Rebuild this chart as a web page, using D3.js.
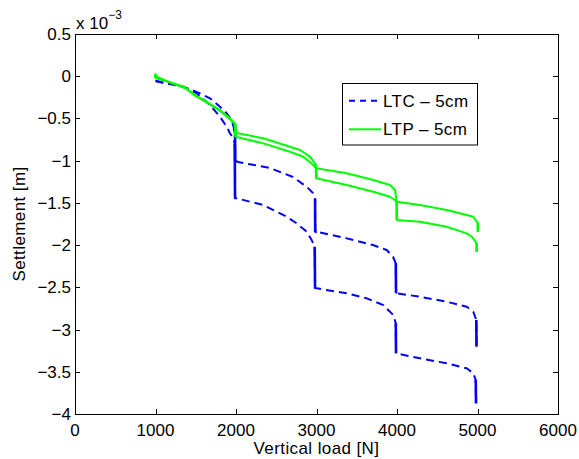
<!DOCTYPE html>
<html>
<head>
<meta charset="utf-8">
<script src="https://cdn.jsdelivr.net/npm/d3@7"></script>
<style>
  body { margin: 0; background: #fff; }
  text { font-family: "Liberation Sans", Arial, Helvetica, sans-serif; }
</style>
</head>
<body>
<script>
// LTC - 5cm (blue dashed), two loading runs. Settlement in 1e-3 m.
const ltcLoadA = [1000, 1118, 1263, 1429, 1553, 1677, 1801, 1884, 1947, 1975, 1988, 1990,
  2025, 2422, 2708, 2882, 2957, 2982, 2984,
  3002, 3375, 3702, 3872, 3950, 3985, 3988,
  3996, 4286, 4617, 4866, 4948, 4985, 4988];
const ltcSetA = [-0.05, -0.084, -0.104, -0.155, -0.203, -0.262, -0.361, -0.439, -0.519, -0.617, -0.67, -1.0,
  -1.016, -1.087, -1.194, -1.312, -1.384, -1.45, -1.845,
  -1.842, -1.92, -1.999, -2.058, -2.138, -2.216, -2.567,
  -2.571, -2.611, -2.671, -2.73, -2.789, -2.888, -3.203];

const ltcLoadB = [1000, 1180, 1345, 1512, 1677, 1801, 1884, 1925, 1959, 1985, 1988,
  2009, 2174, 2339, 2505, 2629, 2753, 2878, 2940, 2978, 2982,
  3002, 3375, 3624, 3830, 3954, 3985, 3988,
  4286, 4617, 4866, 4948, 4978, 4982];
const ltcSetB = [-0.06, -0.09, -0.124, -0.203, -0.341, -0.48, -0.598, -0.676, -0.724, -0.8, -1.446,
  -1.446, -1.486, -1.525, -1.604, -1.664, -1.742, -1.842, -1.94, -2.019, -2.512,
  -2.512, -2.571, -2.63, -2.71, -2.828, -2.926, -3.282,
  -3.341, -3.4, -3.459, -3.518, -3.598, -3.874];

// LTP - 5cm (green solid), two loading runs.
const ltpLoadA = [1000, 1000, 1060, 1221, 1366, 1491, 1636, 1801, 1925, 1988, 1995,
  2339, 2671, 2795, 2919, 2981, 2994,
  3375, 3706, 3913, 3975, 3996,
  4286, 4617, 4866, 4948, 5005, 5005];
const ltpSetA = [0.03, -0.02, -0.04, -0.084, -0.131, -0.223, -0.302, -0.4, -0.499, -0.558, -0.669,
  -0.735, -0.835, -0.874, -0.953, -1.031, -1.091,
  -1.15, -1.229, -1.288, -1.348, -1.486,
  -1.525, -1.584, -1.643, -1.664, -1.742, -1.841];

const ltpLoadB = [1000, 1221, 1366, 1491, 1636, 1801, 1925, 1988, 1995,
  2339, 2671, 2836, 2960, 2994, 2998,
  3375, 3706, 3913, 3975, 3996, 3998,
  4286, 4617, 4866, 4930, 4990, 4990];
const ltpSetB = [0, -0.09, -0.14, -0.23, -0.31, -0.41, -0.51, -0.57, -0.716,
  -0.795, -0.894, -0.953, -1.052, -1.09, -1.209,
  -1.288, -1.368, -1.427, -1.466, -1.5, -1.703,
  -1.723, -1.782, -1.861, -1.901, -1.979, -2.078];

const xTicks = [0, 1000, 2000, 3000, 4000, 5000, 6000];
const yTicks = [0.5, 0, -0.5, -1, -1.5, -2, -2.5, -3, -3.5, -4];
const legendLabels = ["LTC \u2013 5cm", "LTP \u2013 5cm"];

const width = 579, height = 459;
const plot = { left: 75, right: 558, top: 34, bottom: 414 };

const svg = d3.select("body").append("svg")
  .attr("width", width)
  .attr("height", height);

const x = d3.scaleLinear().domain([0, 6000]).range([plot.left, plot.right]);
const y = d3.scaleLinear().domain([-4, 0.5]).range([plot.bottom, plot.top]);

const zip = (xs, ys) => xs.map((v, i) => [v, ys[i]]);

const line = d3.line()
  .x((d) => x(d[0]))
  .y((d) => y(d[1]));

// creep parts: consecutive points at (nearly) the same load
function creepParts(pts) {
  const parts = [];
  for (let i = 1; i < pts.length; i++) {
    if (Math.abs(pts[i][0] - pts[i - 1][0]) < 20) parts.push([pts[i - 1], pts[i]]);
  }
  return parts;
}

svg.append("clipPath").attr("id", "clip")
  .append("rect")
  .attr("x", plot.left).attr("y", plot.top)
  .attr("width", plot.right - plot.left).attr("height", plot.bottom - plot.top);

const g = svg.append("g").attr("clip-path", "url(#clip)");

const ltc = [zip(ltcLoadA, ltcSetA), zip(ltcLoadB, ltcSetB)];
const ltp = [zip(ltpLoadA, ltpSetA), zip(ltpLoadB, ltpSetB)];

function drawSeries(list, color, dash) {
  list.forEach((pts) => {
    g.append("path")
      .attr("d", line(pts))
      .attr("fill", "none")
      .attr("stroke", color)
      .attr("stroke-width", 2)
      .attr("stroke-linejoin", "round")
      .attr("stroke-dasharray", dash);
    creepParts(pts).forEach((seg) => {
      g.append("path")
        .attr("d", line(seg))
        .attr("fill", "none")
        .attr("stroke", color)
        .attr("stroke-width", 2.6);
    });
  });
}
drawSeries(ltc, "#0000ff", "8,5");
drawSeries(ltp, "#00ff00", null);

// axes box and inward ticks on all sides
const axes = svg.append("g").attr("stroke", "#000").attr("stroke-width", 1);
axes.append("rect")
  .attr("x", plot.left + 0.5).attr("y", plot.top + 0.5)
  .attr("width", plot.right - plot.left).attr("height", plot.bottom - plot.top)
  .attr("fill", "none");

const tl = 5;
xTicks.forEach((t) => {
  const px = Math.round(x(t)) + 0.5;
  axes.append("line").attr("x1", px).attr("x2", px)
    .attr("y1", plot.bottom).attr("y2", plot.bottom - tl);
  axes.append("line").attr("x1", px).attr("x2", px)
    .attr("y1", plot.top).attr("y2", plot.top + tl);
});
yTicks.forEach((t) => {
  const py = Math.round(y(t)) + 0.5;
  axes.append("line").attr("x1", plot.left).attr("x2", plot.left + tl)
    .attr("y1", py).attr("y2", py);
  axes.append("line").attr("x1", plot.right).attr("x2", plot.right - tl)
    .attr("y1", py).attr("y2", py);
});

const fs = 17;
svg.append("g").selectAll("text")
  .data(xTicks)
  .join("text")
  .attr("x", (d) => x(d))
  .attr("y", 436)
  .attr("text-anchor", "middle")
  .attr("font-size", fs)
  .text((d) => d);

const fmtY = (d) => (d < 0 ? "\u2212" : "") + Math.abs(d);
svg.append("g").selectAll("text")
  .data(yTicks)
  .join("text")
  .attr("x", 71)
  .attr("y", (d) => y(d))
  .attr("dy", "0.35em")
  .attr("text-anchor", "end")
  .attr("font-size", fs)
  .text(fmtY);

// exponent label
const expo = svg.append("text").attr("x", 76).attr("y", 29).attr("font-size", fs);
expo.append("tspan").text("x 10");
expo.append("tspan").attr("font-size", 12).attr("dy", -10).text("\u22123");

svg.append("text")
  .attr("x", (plot.left + plot.right) / 2)
  .attr("y", 454)
  .attr("text-anchor", "middle")
  .attr("font-size", fs)
  .attr("letter-spacing", 0.4)
  .text("Vertical load [N]");

svg.append("text")
  .attr("transform", `translate(25,${(plot.top + plot.bottom) / 2}) rotate(-90)`)
  .attr("text-anchor", "middle")
  .attr("font-size", fs)
  .attr("letter-spacing", 0.4)
  .text("Settlement [m]");

// legend
const lg = svg.append("g");
lg.append("rect")
  .attr("x", 342.5).attr("y", 83.5)
  .attr("width", 135).attr("height", 61.5)
  .attr("fill", "#fff").attr("stroke", "#000");
const rows = [
  { label: legendLabels[0], color: "#0000ff", dash: "6,5", y: 100.7 },
  { label: legendLabels[1], color: "#00ff00", dash: null, y: 129.3 },
];
rows.forEach((r) => {
  lg.append("line")
    .attr("x1", 349).attr("x2", 381)
    .attr("y1", r.y).attr("y2", r.y)
    .attr("stroke", r.color).attr("stroke-width", 2)
    .attr("stroke-dasharray", r.dash);
  lg.append("text")
    .attr("x", 383).attr("y", r.y).attr("dy", "0.35em")
    .attr("font-size", fs)
    .attr("letter-spacing", 0.4)
    .text(r.label);
});
</script>
</body>
</html>
